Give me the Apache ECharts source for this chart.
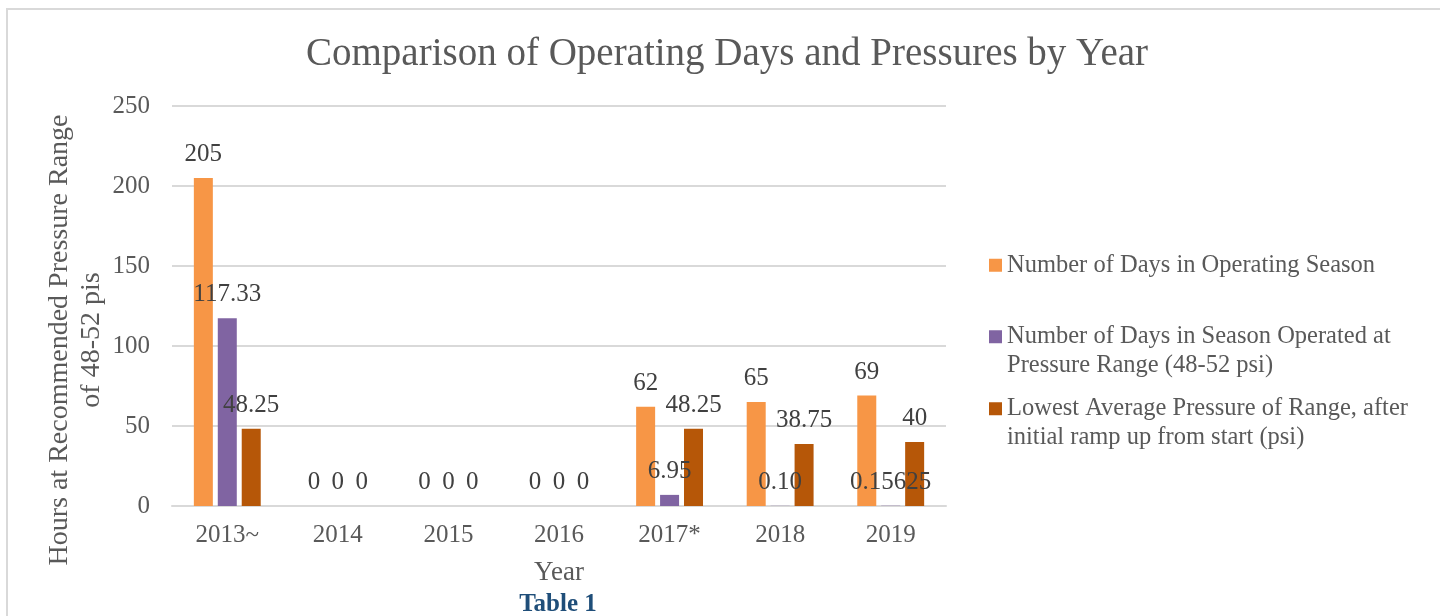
<!DOCTYPE html>
<html>
<head>
    <meta charset="utf-8">
    <script src="https://cdn.jsdelivr.net/npm/echarts@6/dist/echarts.min.js"></script>
</head>
<body style="margin: 0; background: #fff">
    <div id="container" style="width: 1440px; height: 616px"></div>
    <script>
        var years = ['2013~', '2014', '2015', '2016', '2017*', '2018', '2019'];
        var seasonDays = [205, 0, 0, 0, 62, 65, 69];
        var rangeDays = [117.33, 0, 0, 0, 6.95, 0.10, 0.15625];
        var rangeDaysLabels = ['117.33', '0', '0', '0', '6.95', '0.10', '0.15625'];
        var lowestPressure = [48.25, 0, 0, 0, 48.25, 38.75, 40];
        var lowestPressureLabels = ['48.25', '0', '0', '0', '48.25', '38.75', '40'];
        var seriesNames = [
            'Number of Days in Operating Season',
            'Number of Days in Season Operated at\nPressure Range (48-52 psi)',
            'Lowest Average Pressure of Range, after\ninitial ramp up from start (psi)'
        ];

        var font = '"Liberation Serif", serif';
        var grey = '#595959';

        var dom = document.getElementById('container');
        var myChart = echarts.init(dom);

        function barLabel(labels) {
            return {
                show: true,
                position: 'top',
                distance: 11,
                fontFamily: font,
                fontSize: 25,
                color: '#404040',
                formatter: function (p) {
                    return labels ? labels[p.dataIndex] : String(p.value);
                }
            };
        }

        // one legend per item so each can sit where Word put it;
        // two-line items get an empty first line so the square lines up with line one
        function legendAt(idx, top, twoLines) {
            return {
                orient: 'vertical',
                left: 989,
                top: top,
                padding: 0,
                itemWidth: 13,
                itemHeight: 13,
                itemGap: 0,
                icon: 'rect',
                data: [seriesNames[idx]],
                formatter: function (name) {
                    return twoLines ? '\n' + name : name;
                },
                textStyle: {
                    fontFamily: font,
                    fontSize: 24.5,
                    lineHeight: 28.5,
                    color: grey
                }
            };
        }

        var option = {
            animation: false,
            title: {
                text: 'Comparison of Operating Days and Pressures by Year',
                left: 722,
                textAlign: 'center',
                top: 30,
                textStyle: {
                    fontFamily: font,
                    fontSize: 39,
                    fontWeight: 'normal',
                    color: grey
                }
            },
            legend: [
                legendAt(0, 251, false),
                legendAt(1, 294, true),
                legendAt(2, 366, true)
            ],
            grid: {
                left: 172,
                right: 494,
                top: 106,
                bottom: 110
            },
            xAxis: {
                type: 'category',
                data: years,
                name: 'Year',
                nameLocation: 'middle',
                nameGap: 53,
                nameTextStyle: { fontFamily: font, fontSize: 27, color: grey },
                axisLine: { lineStyle: { color: '#D9D9D9', width: 2 } },
                axisTick: { show: false },
                axisLabel: { fontFamily: font, fontSize: 25, color: grey, margin: 17 }
            },
            yAxis: {
                type: 'value',
                min: 0,
                max: 250,
                interval: 50,
                name: 'Hours at Recommended Pressure Range\nof 48-52 pis',
                nameLocation: 'middle',
                nameRotate: 90,
                nameGap: 64,
                nameMoveOverlap: false,
                nameTextStyle: {
                    fontFamily: font,
                    fontSize: 28,
                    lineHeight: 32,
                    color: grey,
                    padding: [0, 68, 0, 0]
                },
                axisLine: { show: false },
                axisTick: { show: false },
                axisLabel: { fontFamily: font, fontSize: 25, color: grey, margin: 22 },
                splitLine: { lineStyle: { color: '#D9D9D9', width: 2 } }
            },
            graphic: [
                {
                    type: 'rect',
                    shape: { x: 7, y: 9, width: 1500, height: 700 },
                    style: { fill: 'none', stroke: '#D9D9D9', lineWidth: 2 },
                    silent: true
                },
                {
                    type: 'text',
                    x: 558,
                    y: 605,
                    style: {
                        text: 'Table 1',
                        font: 'bold 25px "Liberation Serif", serif',
                        fill: '#1F4E79',
                        align: 'center',
                        verticalAlign: 'middle'
                    }
                }
            ],
            series: [
                {
                    name: seriesNames[0],
                    type: 'bar',
                    data: seasonDays,
                    barWidth: 19,
                    barGap: '26%',
                    itemStyle: { color: '#F79646' },
                    label: barLabel(null)
                },
                {
                    name: seriesNames[1],
                    type: 'bar',
                    data: rangeDays,
                    barWidth: 19,
                    barGap: '26%',
                    itemStyle: { color: '#8064A2' },
                    label: barLabel(rangeDaysLabels)
                },
                {
                    name: seriesNames[2],
                    type: 'bar',
                    data: lowestPressure,
                    barWidth: 19,
                    barGap: '26%',
                    itemStyle: { color: '#B65708' },
                    label: barLabel(lowestPressureLabels)
                }
            ]
        };

        myChart.setOption(option);
    </script>
</body>
</html>
